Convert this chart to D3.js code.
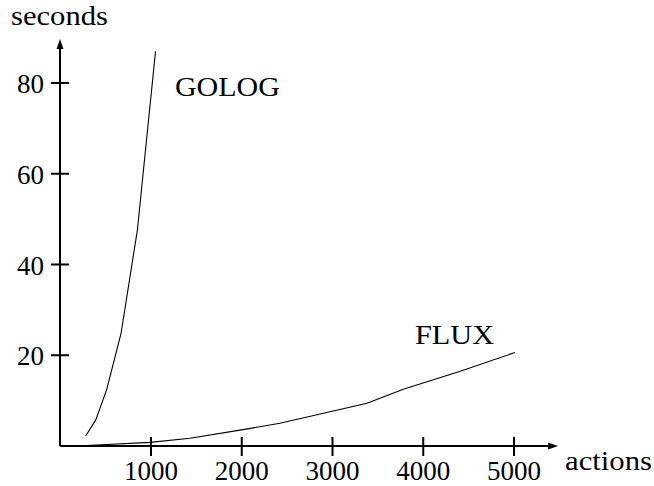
<!DOCTYPE html>
<html><head><meta charset="utf-8">
<script src="https://cdn.jsdelivr.net/npm/d3@7"></script>
<style>body{margin:0;background:#fff}text{font-family:"Liberation Serif","Times New Roman",serif;fill:#000}</style>
</head><body><svg id="c" width="654" height="486"></svg>
<script>
const golog = [[280,2.2],[390,5.7],[510,12.3],[670,24.8],[850,47.6],[1050,87]];
const flux = [[290,0.1],[990,0.8],[1430,1.7],[1980,3.5],[2420,5.0],[3380,9.4],[3780,12.5],[4400,16.4],[5010,20.6]];
const xTicks = [1000,2000,3000,4000,5000];
const yTicks = [20,40,60,80];
const seriesLabels = [{t:"GOLOG",x:1264,y:77.1,w:105},{t:"FLUX",x:3909,y:22.5,w:79}];

const svg = d3.select("#c");
const x = d3.scaleLinear().domain([0,5000]).range([60.25,514]);
const y = d3.scaleLinear().domain([0,80]).range([446,83]);
const fs = 27;

// axes
svg.append("line").attr("x1",60).attr("x2",552).attr("y1",446).attr("y2",446).attr("stroke","#000").attr("stroke-width",2);
svg.append("line").attr("x1",60).attr("x2",60).attr("y1",446).attr("y2",46).attr("stroke","#000").attr("stroke-width",2);
svg.append("path").attr("d","M558,446 L548,442.5 L548,449.5 Z").attr("fill","#000");
svg.append("path").attr("d","M60,39 L56.5,49 L63.5,49 Z").attr("fill","#000");

svg.selectAll(".xt").data(xTicks).enter().append("line")
  .attr("x1",d=>x(d)).attr("x2",d=>x(d)).attr("y1",437).attr("y2",456).attr("stroke","#000").attr("stroke-width",2);
svg.selectAll(".xl").data(xTicks).enter().append("text")
  .attr("x",d=>x(d)).attr("y",480).attr("text-anchor","middle").attr("font-size",fs).text(d=>d);
svg.selectAll(".yt").data(yTicks).enter().append("line")
  .attr("y1",d=>y(d)).attr("y2",d=>y(d)).attr("x1",51).attr("x2",69).attr("stroke","#000").attr("stroke-width",2);
svg.selectAll(".yl").data(yTicks).enter().append("text")
  .attr("x",44).attr("y",d=>y(d)+10).attr("text-anchor","end").attr("font-size",fs).text(d=>d);

svg.append("text").attr("x",11).attr("y",25).attr("font-size",fs)
  .attr("textLength",97).attr("lengthAdjust","spacingAndGlyphs").text("seconds");
svg.append("text").attr("x",565).attr("y",470).attr("font-size",fs)
  .attr("textLength",87).attr("lengthAdjust","spacingAndGlyphs").text("actions");

const line = d3.line().x(d=>x(d[0])).y(d=>y(d[1]));
[golog,flux].forEach(s=>svg.append("path").attr("d",line(s)).attr("fill","none").attr("stroke","#000").attr("stroke-width",1.1));

svg.selectAll(".sl").data(seriesLabels).enter().append("text")
  .attr("x",d=>x(d.x)).attr("y",d=>y(d.y)).attr("font-size",fs+1)
  .attr("textLength",d=>d.w).attr("lengthAdjust","spacingAndGlyphs").text(d=>d.t);
</script></body></html>
